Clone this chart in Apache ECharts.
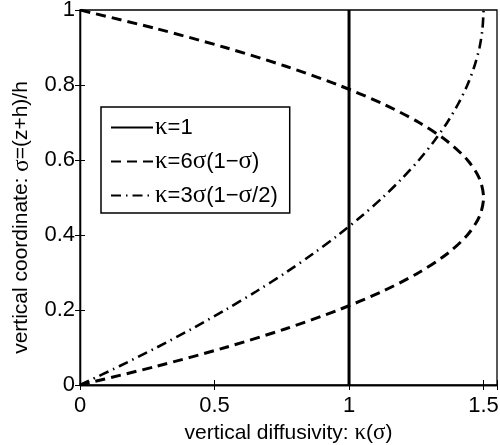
<!DOCTYPE html>
<html>
<head>
<meta charset="utf-8">
<script src="https://cdn.jsdelivr.net/npm/echarts@6/dist/echarts.min.js"></script>
<style>html,body{margin:0;padding:0;background:#fff}#c{width:500px;height:445px}</style>
</head>
<body>
<div id="c"></div>
<script>
// sigma (vertical coordinate) samples
var sigma = [0,0.05,0.1,0.15,0.2,0.25,0.3,0.35,0.4,0.45,0.5,0.55,0.6,0.65,0.7,0.75,0.8,0.85,0.9,0.95,1];
// kappa = 1
var kappaConst = [1,1,1,1,1,1,1,1,1,1,1,1,1,1,1,1,1,1,1,1,1];
// kappa = 6 sigma (1 - sigma)
var kappaPar = [0,0.285,0.54,0.765,0.96,1.125,1.26,1.365,1.44,1.485,1.5,1.485,1.44,1.365,1.26,1.125,0.96,0.765,0.54,0.285,0];
// kappa = 3 sigma (1 - sigma/2)
var kappaLin = [0,0.146,0.285,0.416,0.54,0.656,0.765,0.866,0.96,1.046,1.125,1.196,1.26,1.316,1.365,1.406,1.44,1.466,1.485,1.496,1.5];
var seriesNames = ['κ=1','κ=6σ(1−σ)','κ=3σ(1−σ/2)'];
var xTicks = [0,0.5,1,1.5];
var yTicks = [0,0.2,0.4,0.6,0.8,1];

function pairs(xs){ return xs.map(function(v,i){ return [v, sigma[i]]; }); }
function greek(s){ return s.replace(/([κσ])/g, '{g|$1}'); }

var FONT = 'Liberation Sans';
var GFONT = 'Liberation Serif';
var chart = echarts.init(document.getElementById('c'));
var axisCommon = {
  axisLine:{show:true,lineStyle:{color:'#000',width:1.3}},
  axisTick:{show:true,inside:true,length:5,lineStyle:{color:'#000',width:1}},
  splitLine:{show:false}
};
chart.setOption({
  animation:false,
  backgroundColor:'#fff',
  grid:{left:80,right:3,top:10,bottom:60,show:true,borderColor:'#000',borderWidth:1.3,containLabel:false,outerBoundsMode:'none'},
  legend:{
    orient:'vertical', left:101, top:107,
    borderColor:'#000', borderWidth:1.5, backgroundColor:'#fff',
    padding:[8,12,5,9], itemGap:9, itemWidth:42, itemHeight:20,
    itemStyle:{opacity:0},
    data:seriesNames,
    formatter:function(n){ return greek(n); },
    textStyle:{fontFamily:FONT,fontSize:22,color:'#000',padding:[0,0,0,-3],
      rich:{g:{fontFamily:GFONT,fontSize:25,color:'#000'}}}
  },
  xAxis:[Object.assign({
    type:'value', min:0, max:1.55, interval:0.5,
    name:greek('vertical diffusivity: κ(σ)'), nameLocation:'middle', nameGap:35,
    nameTextStyle:{fontFamily:FONT,fontSize:21,color:'#000',rich:{g:{fontFamily:GFONT,fontSize:23,color:'#000'}}},
    axisLabel:{fontFamily:FONT,fontSize:22,color:'#000',margin:10,
      formatter:function(v){ return xTicks.indexOf(Math.round(v*10)/10)>=0 ? String(v) : ''; }}
  },axisCommon),
  Object.assign({type:'value',position:'top',min:0,max:1.55,interval:0.5,axisLabel:{show:false}},axisCommon)],
  yAxis:[Object.assign({
    type:'value', min:0, max:1, interval:0.2,
    name:greek('vertical coordinate: σ=(z+h)/h'), nameLocation:'middle', nameGap:47,
    nameTextStyle:{fontFamily:FONT,fontSize:21,color:'#000',padding:[0,40,0,0],rich:{g:{fontFamily:GFONT,fontSize:23,color:'#000'}}},
    axisLabel:{fontFamily:FONT,fontSize:22,color:'#000',margin:5,
      formatter:function(v){ return String(Math.round(v*10)/10); }}
  },axisCommon),
  Object.assign({type:'value',position:'right',min:0,max:1,interval:0.2,axisLabel:{show:false}},axisCommon)],
  series:[
    {name:seriesNames[0],type:'line',data:pairs(kappaConst),symbol:'none',itemStyle:{color:'#000'},lineStyle:{color:'#000',width:3,type:'solid'}},
    {name:seriesNames[1],type:'line',data:pairs(kappaPar),symbol:'none',smooth:0.3,itemStyle:{color:'#000'},lineStyle:{color:'#000',width:3,type:[10,6]}},
    {name:seriesNames[2],type:'line',data:pairs(kappaLin),symbol:'none',smooth:0.3,itemStyle:{color:'#000'},lineStyle:{color:'#000',width:2.6,type:[10,5,1.5,5]}}
  ]
});
</script>
</body>
</html>
